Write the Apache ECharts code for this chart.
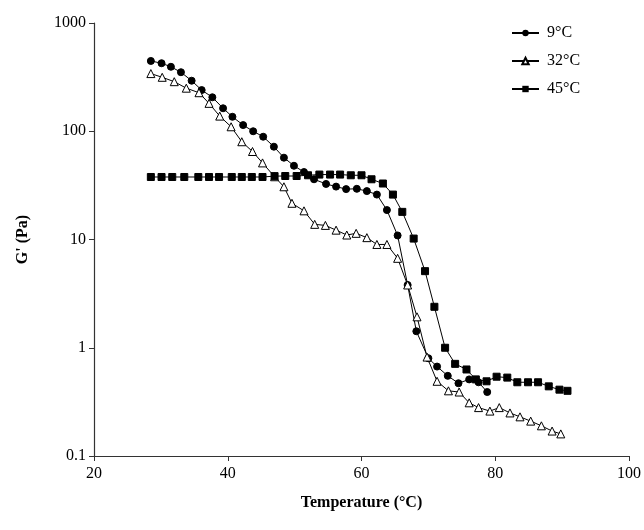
<!DOCTYPE html>
<html>
<head>
<meta charset="utf-8">
<script src="https://cdn.jsdelivr.net/npm/echarts@6/dist/echarts.min.js"></script>
<style>
  html, body { margin: 0; padding: 0; background: #fff; }
  #chart { width: 644px; height: 530px; }
</style>
</head>
<body>
<div id="chart"></div>
<script>
// Storage modulus G' (Pa) versus temperature (°C), three ageing temperatures
const temp9 = [28.5, 30.1, 31.5, 33.0, 34.6, 36.1, 37.7, 39.3, 40.7, 42.3, 43.8, 45.3, 46.9, 48.4, 49.9, 51.4, 52.9, 54.7, 56.2, 57.7, 59.3, 60.8, 62.3, 63.8, 65.4, 66.9, 68.2, 70.0, 71.3, 72.9, 74.5, 76.1, 77.5, 78.8];
const g9 = [446, 425, 394, 351, 293, 240, 206, 163, 136, 114, 100, 89, 72, 57, 48, 42, 36, 32.6, 30.8, 29.2, 29.4, 28, 26, 18.7, 10.9, 3.8, 1.42, 0.80, 0.67, 0.55, 0.47, 0.51, 0.48, 0.39];

const temp32 = [28.5, 30.2, 32.0, 33.8, 35.7, 37.2, 38.8, 40.5, 42.1, 43.7, 45.2, 47.0, 48.4, 49.6, 51.4, 53.0, 54.6, 56.2, 57.8, 59.2, 60.8, 62.3, 63.8, 65.4, 66.9, 68.3, 69.8, 71.3, 73.0, 74.6, 76.1, 77.5, 79.2, 80.6, 82.2, 83.7, 85.3, 86.9, 88.5, 89.8];
const g32 = [341, 315, 287, 250, 227, 181, 138, 110, 80, 65, 51, 38, 30.7, 21.6, 18.4, 13.8, 13.5, 12.2, 11.0, 11.4, 10.4, 9.0, 9.0, 6.7, 3.8, 1.93, 0.82, 0.49, 0.40, 0.39, 0.31, 0.28, 0.26, 0.28, 0.25, 0.23, 0.21, 0.19, 0.17, 0.16];

const temp45 = [28.5, 30.1, 31.7, 33.5, 35.6, 37.2, 38.7, 40.6, 42.1, 43.6, 45.2, 47.0, 48.6, 50.3, 52.0, 53.7, 55.3, 56.8, 58.4, 60.0, 61.5, 63.2, 64.7, 66.1, 67.8, 69.5, 70.9, 72.5, 74.0, 75.7, 77.1, 78.7, 80.2, 81.8, 83.3, 84.9, 86.4, 88.0, 89.6, 90.8];
const g45 = [37.8, 37.8, 37.8, 37.8, 37.8, 37.8, 37.8, 37.8, 37.8, 37.8, 37.8, 38.5, 38.6, 38.6, 39.2, 39.8, 39.8, 39.8, 39.2, 39.2, 36, 32.9, 26, 18, 10.2, 5.1, 2.39, 1.0, 0.71, 0.63, 0.51, 0.49, 0.54, 0.53, 0.48, 0.48, 0.48, 0.44, 0.41, 0.40];

const seriesNames = ['9°C', '32°C', '45°C'];
const xTicks = { min: 20, max: 100, step: 20 };
const yTicks = { min: 0.1, max: 1000 };

const pairs = (xs, ys) => xs.map((x, i) => [x, ys[i]]);
const serif = 'Liberation Serif';
const ink = '#000';

const baseSeries = {
  type: 'line',
  lineStyle: { color: ink, width: 1 },
  itemStyle: { color: ink, borderColor: ink },
  emphasis: { disabled: true },
  animation: false,
  z: 3
};

const chart = echarts.init(document.getElementById('chart'), null, { renderer: 'canvas' });
chart.setOption({
  backgroundColor: '#fff',
  animation: false,
  grid: { left: 94, right: 15, top: 23, bottom: 74 },
  legend: {
    orient: 'vertical',
    left: 511,
    top: 25,
    padding: 0,
    itemWidth: 27,
    itemHeight: 8,
    itemGap: 12,
    textStyle: { fontFamily: serif, fontSize: 16, color: ink, padding: [0, 0, 0, 3] },
    data: seriesNames
  },
  xAxis: {
    type: 'value',
    min: xTicks.min,
    max: xTicks.max,
    interval: xTicks.step,
    name: 'Temperature (°C)',
    nameLocation: 'middle',
    nameGap: 39,
    nameTextStyle: { fontFamily: serif, fontSize: 16, fontWeight: 'bold', color: ink },
    axisLine: { lineStyle: { color: '#333', width: 1.2 } },
    axisTick: { inside: false, length: 5, lineStyle: { color: '#333' } },
    axisLabel: { fontFamily: serif, fontSize: 16, color: ink, margin: 10 },
    splitLine: { show: false }
  },
  yAxis: {
    type: 'log',
    logBase: 10,
    min: yTicks.min,
    max: yTicks.max,
    name: "G' (Pa)",
    nameLocation: 'middle',
    nameGap: 63,
    nameTextStyle: { fontFamily: serif, fontSize: 16, fontWeight: 'bold', color: ink },
    axisLine: { show: true, lineStyle: { color: '#333', width: 1.2 } },
    axisTick: { show: true, inside: false, length: 5, lineStyle: { color: '#333' } },
    axisLabel: { fontFamily: serif, fontSize: 16, color: ink, margin: 8, formatter: v => String(v) },
    splitLine: { show: false },
    minorTick: { show: false }
  },
  series: [
    Object.assign({}, baseSeries, {
      name: seriesNames[0],
      data: pairs(temp9, g9),
      symbol: 'circle',
      symbolSize: 7
    }),
    Object.assign({}, baseSeries, {
      name: seriesNames[1],
      data: pairs(temp32, g32),
      symbol: 'triangle',
      symbolSize: 8,
      itemStyle: { color: '#fff', borderColor: ink, borderWidth: 1 }
    }),
    Object.assign({}, baseSeries, {
      name: seriesNames[2],
      data: pairs(temp45, g45),
      symbol: 'rect',
      symbolSize: 7
    })
  ]
});
</script>
</body>
</html>
